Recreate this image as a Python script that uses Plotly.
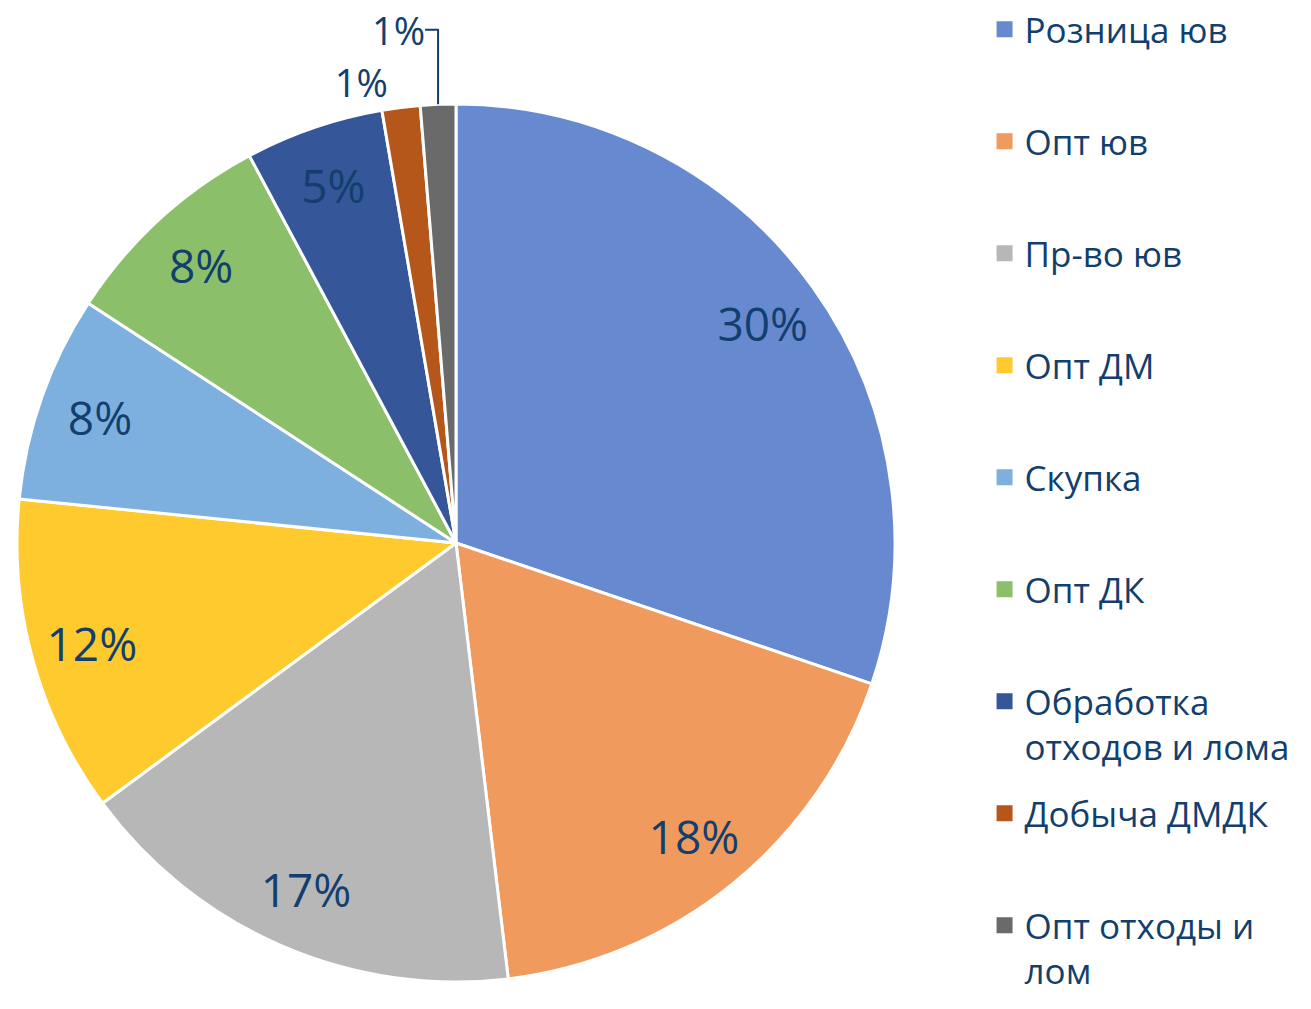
import plotly.graph_objects as go

# ---- data ----
categories = ["Розница юв", "Опт юв", "Пр-во юв", "Опт ДМ", "Скупка", "Опт ДК",
              "Обработка отходов и лома", "Добыча ДМДК", "Опт отходы и лом"]
legend_labels = ["Розница юв<br> ", "Опт юв<br> ", "Пр-во юв<br> ", "Опт ДМ<br> ",
                 "Скупка<br> ", "Опт ДК<br> ", "Обработка<br>отходов и лома",
                 "Добыча ДМДК<br> ", "Опт отходы и<br>лом"]
shares = [30.2, 17.9, 16.8, 11.7, 7.6, 8.0, 5.1, 1.4, 1.3]
colors = ["#6789CF", "#F09A5E", "#B7B7B7", "#FFCA2E", "#7DB0DF",
          "#8CBF69", "#36569A", "#B5571A", "#6A6A6A"]
label_positions = ["inside"] * 7 + ["outside"] * 2

TEXT_COLOR = "#123F6E"
FONT = "Open Sans"

W, H = 1311, 1009
cx, cy, R = 456, 543, 439
dom_x = [(cx - R) / W, (cx + R) / W]
dom_y = [1 - (cy + R) / H, 1 - (cy - R) / H]

fig = go.Figure()

# main pie (slices)
fig.add_trace(go.Pie(
    labels=categories, values=shares, sort=False, direction="clockwise", rotation=0,
    marker=dict(colors=colors, line=dict(color="white", width=3)),
    textinfo="none", showlegend=False, domain=dict(x=dom_x, y=dom_y),
    hovertemplate="%{label}: %{percent:.0%}<extra></extra>",
))

# ring overlay used only to position the percentage labels near the rim
fig.add_trace(go.Pie(
    labels=categories, values=shares, sort=False, direction="clockwise", rotation=0,
    hole=0.72,
    marker=dict(colors=["rgba(0,0,0,0)"] * len(shares), line=dict(width=0)),
    texttemplate="%{percent:.0%}", textposition=label_positions,
    insidetextorientation="horizontal",
    textfont=dict(family=FONT, size=46, color=TEXT_COLOR),
    outsidetextfont=dict(family=FONT, size=38, color=TEXT_COLOR),
    showlegend=False, hoverinfo="skip", domain=dict(x=dom_x, y=dom_y),
))

# legend entries
for i, (name, col) in enumerate(zip(legend_labels, colors)):
    fig.add_trace(go.Scatter(
        x=[None], y=[None], mode="markers", name=name, legendgroup=f"g{i}",
        marker=dict(symbol="square", size=16, color=col),
        hoverinfo="skip",
    ))

fig.update_layout(
    width=W, height=H,
    margin=dict(l=0, r=0, t=0, b=0, autoexpand=False),
    paper_bgcolor="white", plot_bgcolor="white",
    xaxis=dict(visible=False), yaxis=dict(visible=False),
    legend=dict(
        x=0.751, xanchor="left", y=1.0, yanchor="top",
        font=dict(family=FONT, size=35, color=TEXT_COLOR),
        tracegroupgap=18, valign="top", bgcolor="rgba(0,0,0,0)",
        traceorder="grouped",
    ),
)

fig.write_html("out.html", config={"displayModeBar": False},
               post_script="document.body.style.margin='0px';")
